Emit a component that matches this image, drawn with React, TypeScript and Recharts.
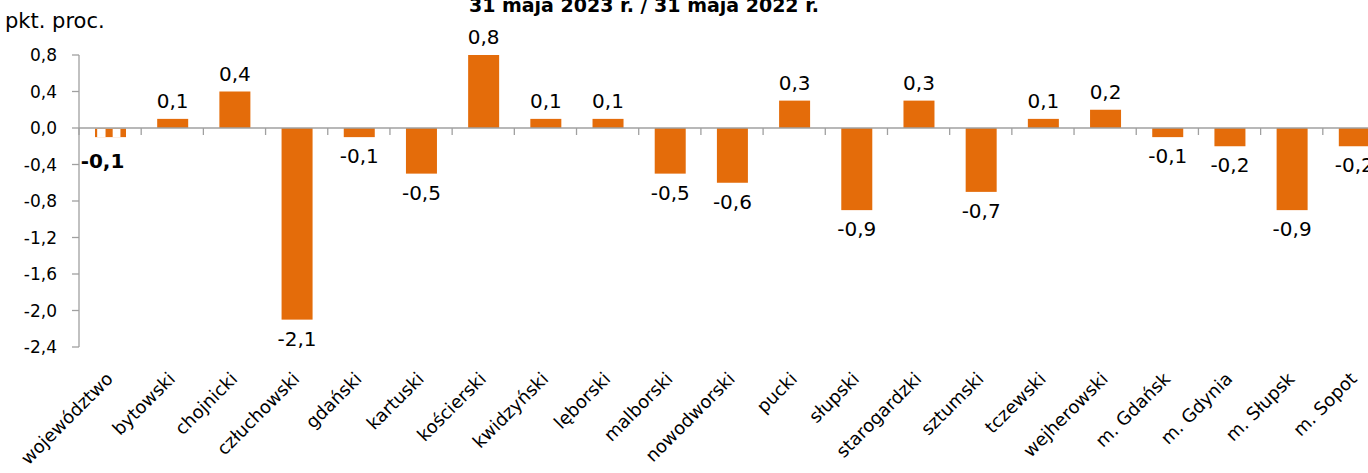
import React from 'react';
import { BarChart, Bar, XAxis, YAxis, ReferenceLine, LabelList } from 'recharts';

const categories = [
  'województwo', 'bytowski', 'chojnicki', 'człuchowski', 'gdański', 'kartuski',
  'kościerski', 'kwidzyński', 'lęborski', 'malborski', 'nowodworski', 'pucki',
  'słupski', 'starogardzki', 'sztumski', 'tczewski', 'wejherowski', 'm. Gdańsk',
  'm. Gdynia', 'm. Słupsk', 'm. Sopot',
];
const values = [
  -0.1, 0.1, 0.4, -2.1, -0.1, -0.5,
  0.8, 0.1, 0.1, -0.5, -0.6, 0.3,
  -0.9, 0.3, -0.7, 0.1, 0.2, -0.1,
  -0.2, -0.9, -0.2,
];
const yTicks = [-2.4, -2.0, -1.6, -1.2, -0.8, -0.4, 0, 0.4, 0.8];
const titleText = '31 maja 2023 r. / 31 maja 2022 r.';
const unitText = 'pkt. proc.';

const data = categories.map((name, i) => ({ name, value: values[i] }));

const FONT = '"DejaVu Sans", sans-serif';
const ORANGE = '#E46C0A';
const AXIS = '#A0A0A0';

const fmt = (v: number) => Number(v).toFixed(1).replace('.', ',');

const BarShape = (props: any) => {
  const { x, y, width, height, index } = props;
  const top = Math.min(y, y + height);
  const h = Math.abs(height);
  if (index === 0) {
    return (
      <g>
        <rect x={x} y={top} width={width} height={h} fill={ORANGE} />
        <rect x={x + width * 0.07} y={top + 1} width={width * 0.27} height={Math.max(h - 1, 0)} fill="#fff" />
        <rect x={x + width * 0.57} y={top + 1} width={width * 0.25} height={Math.max(h - 1, 0)} fill="#fff" />
        <rect x={x} y={top} width={width} height={1} fill="#F3B27E" />
      </g>
    );
  }
  return <rect x={x} y={top} width={width} height={h} fill={ORANGE} />;
};

const BarLabel = (props: any) => {
  const vb = props.viewBox && props.viewBox.width !== undefined ? props.viewBox : props;
  const { x, y, width, height } = vb;
  const { value, index } = props;
  const top = Math.min(y, y + height);
  const bottom = Math.max(y, y + height);
  const cx = x + width / 2;
  if (value >= 0) {
    return (
      <text x={cx} y={top - 11} textAnchor="middle" fontFamily={FONT} fontSize={20} fill="#000">
        {fmt(value)}
      </text>
    );
  }
  const bold = index === 0;
  return (
    <text
      x={bold ? cx - 8 : cx}
      y={bottom + (bold ? 31 : 26)}
      textAnchor="middle"
      fontFamily={FONT}
      fontSize={20}
      fontWeight={bold ? 'bold' : 'normal'}
      fill="#000"
    >
      {fmt(value)}
    </text>
  );
};

const ZeroAxis = (props: any) => {
  const x1 = props.x1 ?? props.points?.[0]?.x;
  const y1 = props.y1 ?? props.points?.[0]?.y;
  const x2 = props.x2 ?? props.points?.[1]?.x;
  const n = categories.length;
  const ticks = [];
  for (let k = 0; k <= n; k++) {
    const tx = x1 + (k * (x2 - x1)) / n;
    ticks.push(<line key={k} x1={tx} y1={y1} x2={tx} y2={y1 + 7} stroke={AXIS} strokeWidth={1.3} />);
  }
  return (
    <g>
      <line x1={x1} y1={y1} x2={x2} y2={y1} stroke={AXIS} strokeWidth={1.3} />
      {ticks}
    </g>
  );
};

const XTick = (props: any) => {
  const { x, y, payload } = props;
  const ax = x + 4;
  const ay = y + 33;
  return (
    <text
      x={ax}
      y={ay}
      transform={`rotate(-45 ${ax} ${ay})`}
      textAnchor="end"
      fontFamily={FONT}
      fontSize={18}
      fill="#000"
    >
      {payload.value}
    </text>
  );
};

export default function App() {
  return (
    <div
      style={{
        position: 'absolute',
        left: 0,
        top: 0,
        width: 1368,
        height: 473,
        overflow: 'hidden',
        background: '#fff',
      }}
    >
      <BarChart
        width={1400}
        height={473}
        data={data}
        margin={{ top: 55, right: 15, left: 0, bottom: 0 }}
        barSize={31}
      >
        <XAxis
          dataKey="name"
          interval={0}
          axisLine={false}
          tickLine={false}
          tickSize={0}
          tickMargin={0}
          height={126}
          tick={<XTick />}
        />
        <YAxis
          type="number"
          domain={[-2.4, 0.8]}
          ticks={yTicks}
          interval={0}
          tickFormatter={fmt}
          width={79}
          axisLine={{ stroke: AXIS, strokeWidth: 1.3 }}
          tickLine={{ stroke: AXIS, strokeWidth: 1.3 }}
          tickSize={7}
          tickMargin={15}
          tick={{ fontFamily: FONT, fontSize: 17, fill: '#000' }}
        />
        <Bar dataKey="value" fill={ORANGE} shape={<BarShape />} isAnimationActive={false}>
          <LabelList dataKey="value" content={<BarLabel />} />
        </Bar>
        <ReferenceLine y={0} stroke={AXIS} shape={<ZeroAxis />} />
      </BarChart>
      <svg
        style={{ position: 'absolute', left: 0, top: 0, pointerEvents: 'none' }}
        width={1368}
        height={473}
      >
        <text x={5} y={28} fontFamily={FONT} fontSize={21} fill="#000">
          {unitText}
        </text>
        <text x={644} y={12} textAnchor="middle" fontFamily={FONT} fontSize={19} fontWeight="bold" fill="#000">
          {titleText}
        </text>
      </svg>
    </div>
  );
}
